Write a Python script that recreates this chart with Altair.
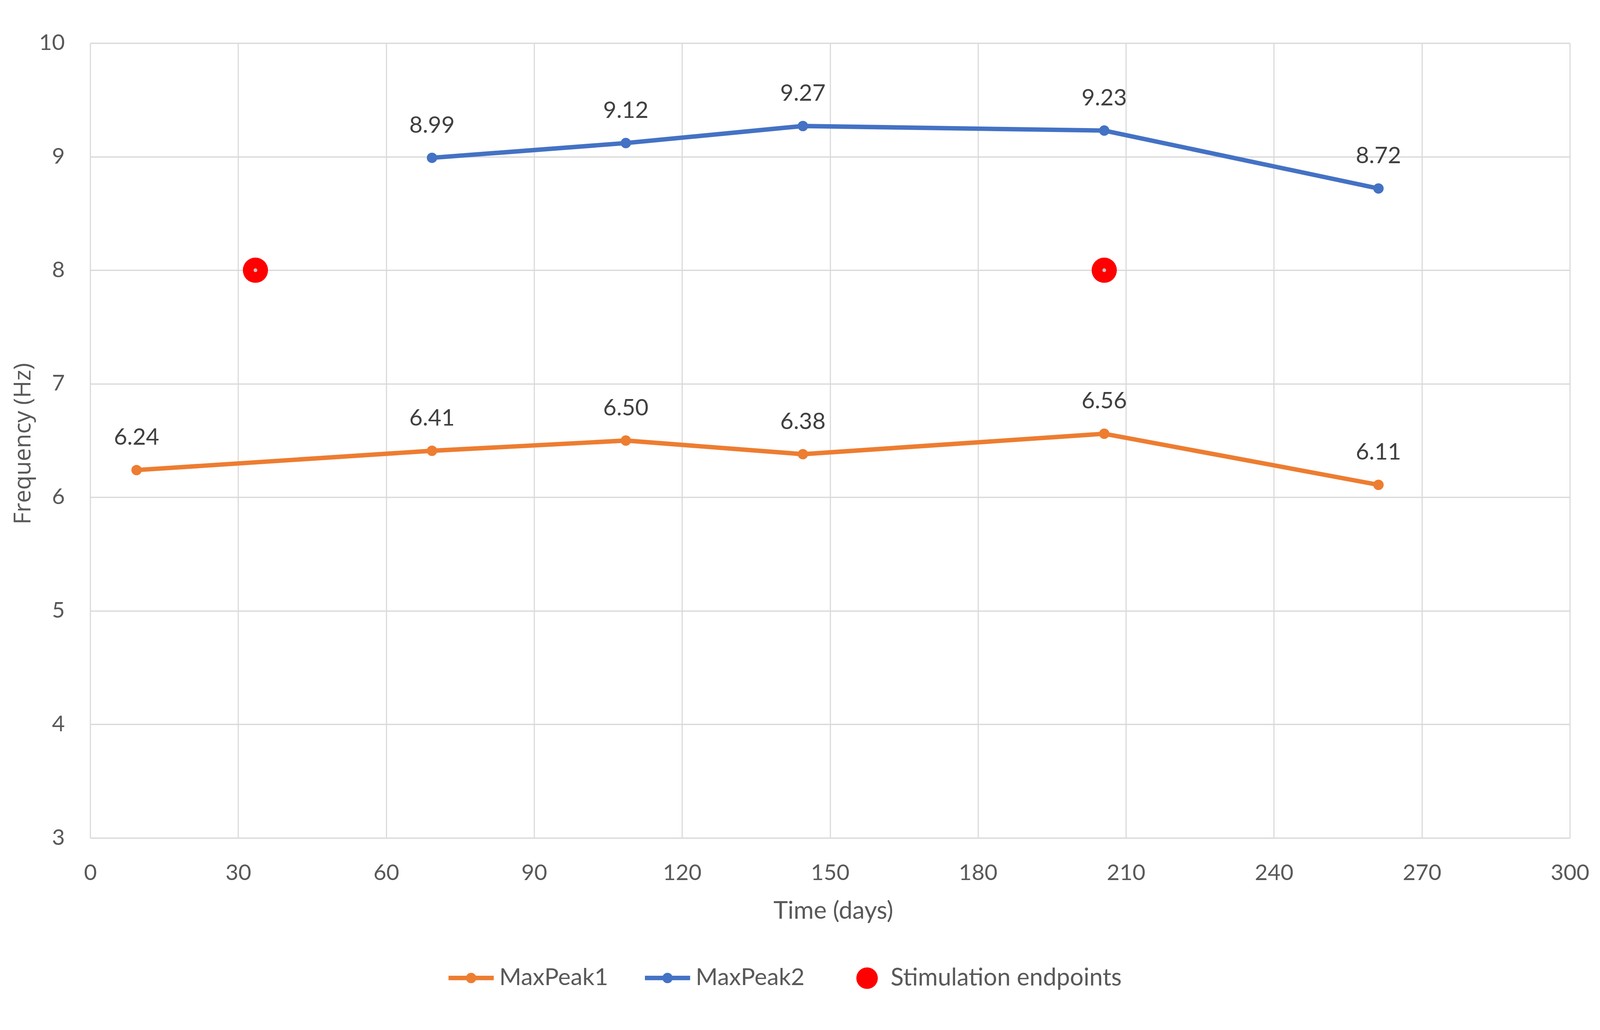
import altair as alt
import pandas as pd

# ---- data ----
days_peak1 = [9.4, 69.3, 108.6, 144.5, 205.6, 261.2]
maxpeak1 = [6.24, 6.41, 6.50, 6.38, 6.56, 6.11]
days_peak2 = [69.3, 108.6, 144.5, 205.6, 261.2]
maxpeak2 = [8.99, 9.12, 9.27, 9.23, 8.72]
stim_days = [33.5, 205.6]
stim_freq = [8.0, 8.0]
series_names = ["MaxPeak1", "MaxPeak2"]
stim_name = "Stimulation endpoints"
x_ticks = [0, 30, 60, 90, 120, 150, 180, 210, 240, 270, 300]
y_ticks = [3, 4, 5, 6, 7, 8, 9, 10]

lines = pd.DataFrame({
    "day": days_peak1 + days_peak2,
    "freq": maxpeak1 + maxpeak2,
    "series": [series_names[0]] * len(maxpeak1) + [series_names[1]] * len(maxpeak2),
})
stim = pd.DataFrame({"day": stim_days, "freq": stim_freq, "series": [stim_name] * len(stim_days)})

ORANGE = "#ED7D31"
BLUE = "#4472C4"
RED = "#FF0000"
GRID = "#d9d9d9"
TXT = "#595959"

W, H = 3993, 2146

x_enc = alt.X(
    "day:Q",
    scale=alt.Scale(domain=[0, 300], nice=False, zero=False),
    axis=alt.Axis(
        values=x_ticks, title="Time (days)", grid=True, gridColor=GRID, gridWidth=3,
        domain=False, ticks=False, tickSize=0,
        labelFont="Lato", labelFontSize=60, labelColor=TXT, labelBaseline="alphabetic",
        labelPadding=113, labelFlush=False, labelOverlap=False,
        titleFont="Lato", titleFontSize=66, titleColor=TXT, titleFontWeight="normal",
        titleX=2005, titleY=218, titleBaseline="alphabetic",
    ),
)
y_enc = alt.Y(
    "freq:Q",
    scale=alt.Scale(domain=[3, 10], nice=False, zero=False),
    axis=alt.Axis(
        values=y_ticks, title="Frequency (Hz)", grid=True, gridColor=GRID, gridWidth=3.5,
        domain=False, ticks=False, tickSize=0,
        labelFont="Lato", labelFontSize=60, labelColor=TXT, labelPadding=69,
        labelBaseline="middle", labelFlush=False, labelOverlap=False,
        titleFont="Open Sans", titleFontSize=63, titleColor=TXT, titleFontWeight="normal",
        titleX=-162, titleY=1081, titleBaseline="alphabetic", titleAngle=-90, titleAlign="center",
    ),
)

line_symbol = ("M-1,0H1"
               "M0.131,0A0.131,0.131,0,1,1,-0.131,0A0.131,0.131,0,1,1,0.131,0"
               "M0.05,0A0.05,0.05,0,1,1,-0.05,0A0.05,0.05,0,1,1,0.05,0")

line_scale = alt.Scale(domain=series_names, range=[ORANGE, BLUE])

lines_layer = alt.Chart(lines).mark_line(strokeWidth=12).encode(
    x=x_enc, y=y_enc,
    color=alt.Color("series:N", scale=line_scale, legend=alt.Legend(
        title=None, orient="none", legendX=961, legendY=2457, direction="horizontal",
        symbolType=line_symbol, symbolSize=14884, symbolStrokeWidth=12, symbolOpacity=1,
        labelFont="Lato", labelFontSize=64, labelColor=TXT, labelOffset=9, labelLimit=0,
        columnPadding=75, padding=0,
    )),
)

points_layer = alt.Chart(lines).mark_circle(size=784, opacity=1).encode(
    x=x_enc, y=y_enc,
    color=alt.Color("series:N", scale=line_scale, legend=None),
)

labels_layer = alt.Chart(lines).mark_text(
    dy=-87, fontSize=62, font="Lato", color="#404040", baseline="middle", align="center"
).encode(
    x=x_enc, y=y_enc, text=alt.Text("freq:Q", format=".2f"),
)

stim_layer = alt.Chart(stim).mark_circle(size=4624, opacity=1).encode(
    x=x_enc, y=y_enc,
    color=alt.Color("series:N", scale=alt.Scale(domain=[stim_name], range=[RED]), legend=alt.Legend(
        title=None, orient="none", legendX=2064, legendY=2492, direction="horizontal",
        symbolType="circle", symbolSize=3364, symbolStrokeWidth=0, symbolOpacity=1,
        labelFont="Lato", labelFontSize=65, labelColor=TXT, labelOffset=31, labelLimit=0,
        padding=0,
    )),
)

stim_center = alt.Chart(stim).mark_circle(size=100, color="#c4c4c4", opacity=1).encode(
    x=x_enc, y=y_enc,
)

chart = alt.layer(
    lines_layer, points_layer, labels_layer, stim_layer, stim_center
).resolve_scale(color="independent").properties(
    width=W, height=H,
    autosize=alt.AutoSizeParams(type="none"),
    padding={"left": 235, "top": 37, "right": 73, "bottom": 439},
    background="white",
).configure_view(strokeWidth=0)

chart.save("out.html", embed_options={"renderer": "svg", "actions": False})
